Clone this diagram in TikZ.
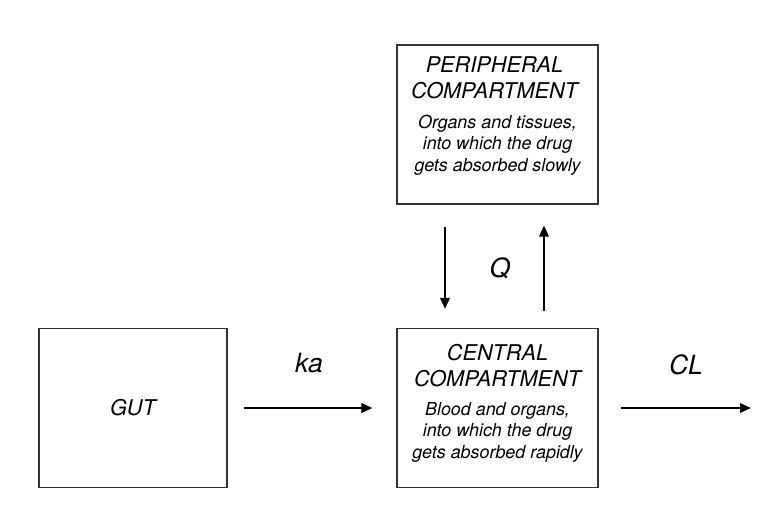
\documentclass[tikz,border=0pt]{standalone}
\usepackage{fontspec}
\setmainfont{TeX Gyre Heros}
\usetikzlibrary{arrows.meta}

\tikzset{
  compbox/.style={draw=black!80, line width=1.2pt, minimum width=201pt, minimum height=159pt, inner sep=0pt},
  titletext/.style={align=center, inner sep=0pt, anchor=base, font=\fontsize{21.7}{26}\selectfont\itshape},
  desctext/.style={align=center, inner sep=0pt, anchor=base, font=\fontsize{17.9}{21.3}\selectfont\itshape},
  ratelabel/.style={font=\fontsize{26.5}{30}\selectfont\itshape},
  flow/.style={-{Triangle[length=11pt,width=9.5pt]}, line width=2.2pt, black}
}

\begin{document}
\begin{tikzpicture}[x=1pt,y=-1pt]
    \useasboundingbox (0,0) rectangle (776,522);

    \node[compbox, minimum width=188pt, font=\fontsize{21.7}{26}\selectfont\itshape] (gut) at (133,408) {GUT};
    \node[compbox] (central) at (497.5,408) {};
    \node[compbox] (periph) at (497.5,124.5) {};
    \coordinate (elim) at (751,408);

    \node[titletext] (centraltitle) at (497.5,386) {CENTRAL\\COMPARTMENT};
    \node[desctext] (centraldesc) at (497.5,458) {Blood and organs,\\into which the drug\\gets absorbed rapidly};
    \node[titletext] (periphtitle) at (494.5,98) {PERIPHERAL\\COMPARTMENT};
    \node[desctext] (periphdesc) at (497.5,171) {Organs and tissues,\\into which the drug\\gets absorbed slowly};

    \node[ratelabel] (ka) at (309,363) {ka};
    \node[ratelabel] (cl) at (686,364.5) {CL};
    \node[ratelabel] (q) at (500,268) {Q};

    \draw[flow, shorten <=16pt, shorten >=24pt] (gut.east) -- (central.west);
    \draw[flow, shorten <=22pt] (central.east) -- (elim);
    \draw[flow, shorten <=22pt, shorten >=19pt] ([xshift=-52.5pt]periph.south) -- ([xshift=-52.5pt]central.north);
    \draw[flow, shorten <=17pt, shorten >=21pt] ([xshift=46.5pt]central.north) -- ([xshift=46.5pt]periph.south);
  \end{tikzpicture}
\end{document}
